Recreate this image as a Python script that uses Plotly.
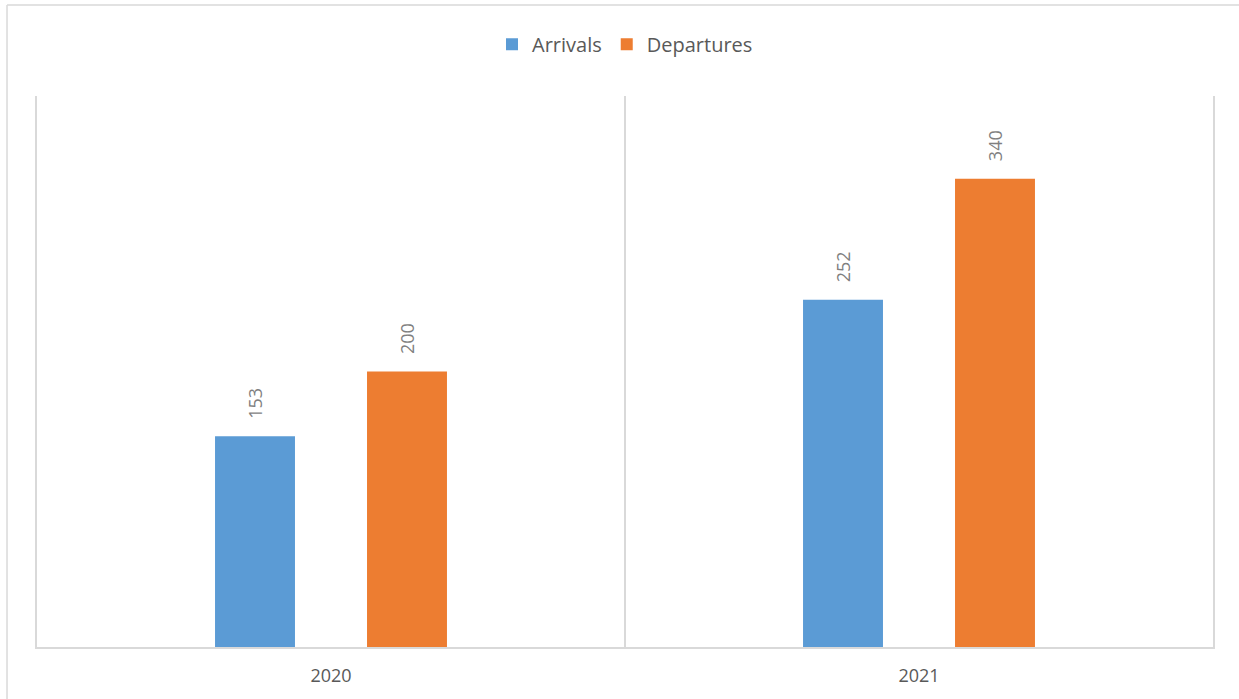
import plotly.graph_objects as go

years = ['2020', '2021']
arrivals = [153, 252]
departures = [200, 340]

series = [('Arrivals', arrivals, '#5b9bd5', -76), ('Departures', departures, '#ed7d31', 76)]

fig = go.Figure()
for name, vals, color, shift in series:
    fig.add_trace(go.Bar(x=years, y=vals, name=name, marker_color=color,
                         marker_line_width=0))
    # rotated value labels sitting above each bar
    for i, v in enumerate(vals):
        fig.add_annotation(x=i, y=v, text=str(v), showarrow=False,
                           textangle=-90, xshift=shift, yshift=15,
                           yanchor='bottom', xanchor='center',
                           font=dict(size=18, color='#7f7f7f'))

fig.update_layout(
    width=1239, height=699,
    margin=dict(l=37, r=26, t=96, b=52),
    plot_bgcolor='white', paper_bgcolor='white',
    font=dict(family='Open Sans, Calibri, sans-serif', color='#595959'),
    barmode='group', bargap=0.483, bargroupgap=0.474,
    legend=dict(orientation='h', x=0.5, xanchor='center', y=1.094, yanchor='middle',
                font=dict(size=20, color='#595959'), itemwidth=30),
    showlegend=True,
)
fig.update_xaxes(type='category', range=[-0.5, 1.5], autorange=False,
                 showgrid=True, gridcolor='#d9d9d9', gridwidth=1.5,
                 tickson='boundaries', ticks='', showline=True, linecolor='#d9d9d9',
                 linewidth=2, tickfont=dict(size=18, color='#595959'),
                 ticklabelstandoff=11)
# y axis hidden except for the side lines at the outer category boundaries
fig.update_yaxes(range=[0, 400], showticklabels=False, showgrid=False, zeroline=False,
                 ticks='', showline=True, mirror=True, linecolor='#d9d9d9', linewidth=1.5)

# chart frame: only the left and top edges show in the picture
fig.add_shape(type='line', xref='paper', yref='paper',
              x0=-0.0255, x1=-0.0255, y0=-0.1, y1=1.165,
              line=dict(color='#d9d9d9', width=1.5))
fig.add_shape(type='line', xref='paper', yref='paper',
              x0=-0.0255, x1=1.03, y0=1.165, y1=1.165,
              line=dict(color='#d9d9d9', width=1.5))

fig.write_html('out.html', config={'displayModeBar': False},
               post_script="document.body.style.margin='0px';")
